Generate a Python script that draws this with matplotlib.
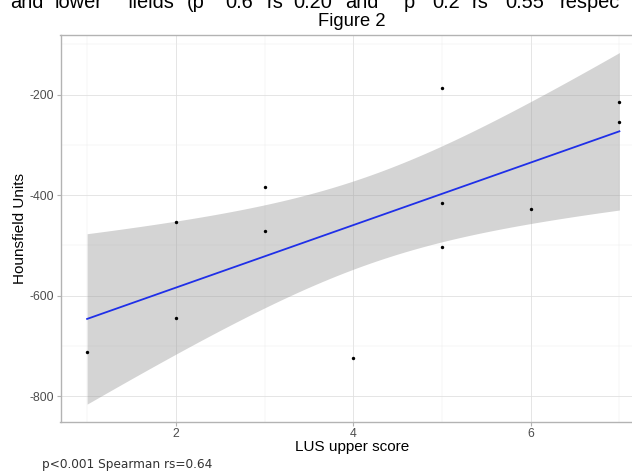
import numpy as np
import matplotlib
matplotlib.use("Agg")
import matplotlib.pyplot as plt
from matplotlib.ticker import MultipleLocator

plt.rcParams['axes.unicode_minus'] = False
plt.rcParams['font.family'] = ['Liberation Sans', 'DejaVu Sans']

# Data
lus_upper = [1, 2, 2, 3, 3, 4, 5, 5, 5, 6, 7, 7]
hounsfield = [-712, -453, -644, -385, -472, -725, -187, -415, -504, -428, -215, -254]
x_ticks = [2, 4, 6]
y_ticks = [-800, -600, -400, -200]
title = "Figure 2"
x_label = "LUS upper score"
y_label = "Hounsfield Units"
note = "p<0.001 Spearman rs=0.64"
header_words = ["and", "lower", "fields", "(p", "0.6", "rs", "0.20",
                "and", "p", "0.2", "rs", "0.55", "respec"]
header_x = [10, 55, 128, 187, 225, 267, 293, 345, 404, 432, 472, 505, 560]

# Linear fit with 95% confidence band (t quantile, df = n - 2 = 10)
x = np.asarray(lus_upper, dtype=float)
y = np.asarray(hounsfield, dtype=float)
n = len(x)
slope, intercept = np.polyfit(x, y, 1)
resid = y - (slope * x + intercept)
s = np.sqrt(np.sum(resid ** 2) / (n - 2))
sxx = np.sum((x - x.mean()) ** 2)
t_crit = 2.228139
xs = np.linspace(x.min(), x.max(), 80)
fit = slope * xs + intercept
half = t_crit * s * np.sqrt(1.0 / n + (xs - x.mean()) ** 2 / sxx)
lo, hi = fit - half, fit + half

W, H = 632, 471
fig = plt.figure(figsize=(W / 100, H / 100), dpi=100)
left, right, top, bottom = 60.5, 646, 35, 421.7
ax = fig.add_axes([left / W, 1 - bottom / H, (right - left) / W, (bottom - top) / H])

ax.fill_between(xs, lo, hi, color='#999999', alpha=0.42, lw=0, zorder=2)
ax.plot(xs, fit, color='#1f2fe8', lw=1.3, zorder=3)
ax.scatter(x, y, s=6, color='black', zorder=4, linewidths=0)

# 5% expansion of the data range (points and band)
xmin, xmax = x.min(), x.max()
ymin, ymax = min(lo.min(), y.min()), max(hi.max(), y.max())
dx, dy = 0.05 * (xmax - xmin), 0.05 * (ymax - ymin)
ax.set_xlim(xmin - dx, xmax + dx)
ax.set_ylim(ymin - dy, ymax + dy)

ax.set_xticks(x_ticks)
ax.set_yticks(y_ticks)
ax.xaxis.set_minor_locator(MultipleLocator(1))
ax.yaxis.set_minor_locator(MultipleLocator(100))
ax.set_axisbelow(True)
ax.grid(which='major', color='#E0E0E0', lw=0.6)
ax.grid(which='minor', color='#EBEBEB', lw=0.35)

for sp in ax.spines.values():
    sp.set_color('#B3B3B3')
    sp.set_linewidth(1.0)
ax.tick_params(which='major', length=2.75, width=0.8, color='#B3B3B3',
               labelsize=8.8, labelcolor='#4D4D4D', pad=2.0)
ax.tick_params(which='minor', length=0)

fig.text(20 / W, 1 - 228.5 / H, y_label, rotation=90, ha='center', va='center', fontsize=11)
fig.text(352 / W, 1 - 447 / H, x_label, ha='center', va='center', fontsize=11)
fig.text(352 / W, 1 - 26.5 / H, title, ha='center', va='baseline', fontsize=13.2)
fig.text(41.7 / W, 1 - 468.3 / H, note, family='DejaVu Sans', fontsize=8.7,
         color='#333333', va='baseline', ha='left')

for word, px in zip(header_words, header_x):
    fig.text(px / W, 1 - 7.5 / H, word, fontsize=14.4, va='baseline', ha='left')

fig.savefig('out.png', dpi=100, facecolor='white')
